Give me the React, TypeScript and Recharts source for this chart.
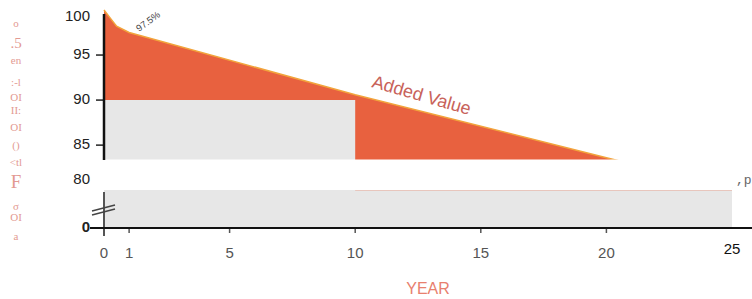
import React from "react";
import { ComposedChart, Area, XAxis, YAxis, ReferenceArea } from "recharts";

// values
const years = [0, 0.25, 0.5, 1, 10, 20, 25];
const guaranteed = [100, 99.1, 98.2, 97.5, 90.6, 83.6, 80.2];
const standard = [90, 90, 90, 90, 80, 80, 80];

const xTicks = [0, 1, 5, 10, 15, 20, 25];
const yTicks = [0, 80, 85, 90, 95, 100];
const sideMarks = ["o", ".5", "en", ":-l", "OI", "II:", "OI", "()", "<tl", "F", "σ", "OI", "a"];

// broken axis: 0..80 squeezed into a thin strip, 80..100 full scale
const LOW = 4.2;
const brk = (v: number) => (v >= 80 ? v - 80 + LOW : (v * LOW) / 80);

const data = years.map((y, i) => ({
  year: y,
  red: brk(guaranteed[i]),
  grey: brk(standard[i]),
}));

const W = 752;
const H = 299;

const YTick = (props: any) => {
  const { x, y, index } = props;
  const v = yTicks[index];
  const dy = v === 100 ? 7 : v === 80 ? -10 : 0;
  const showLine = v === 85 || v === 90 || v === 95;
  return (
    <g>
      {showLine && <line x1={x - 8} x2={x} y1={y} y2={y} stroke="#222" strokeWidth={1.5} />}
      <text
        x={x - 14}
        y={y + dy}
        textAnchor="end"
        dominantBaseline="middle"
        fontSize={15}
        fontWeight={v === 0 ? 700 : 400}
        fill="#222"
        fontFamily="Liberation Sans, Arial, sans-serif"
      >
        {v}
      </text>
    </g>
  );
};

const XTick = (props: any) => {
  const { x, y, payload } = props;
  const last = payload.value === 25;
  return (
    <g>
      {!last && <line x1={x} x2={x} y1={y} y2={y + 5} stroke="#555" strokeWidth={1.5} />}
      <text
        x={x}
        y={y + (last ? 22 : 26)}
        textAnchor="middle"
        dominantBaseline="middle"
        fontSize={15}
        fill={last ? "#111" : "#555"}
        fontFamily="Liberation Sans, Arial, sans-serif"
      >
        {payload.value}
      </text>
    </g>
  );
};

export default function App() {
  return (
    <div style={{ position: "absolute", left: 0, top: 0, width: W, height: H, background: "#fff" }}>
      <ComposedChart width={W} height={H} data={data} margin={{ top: 10, right: 20, bottom: 31, left: 44 }}>
        <XAxis
          dataKey="year"
          type="number"
          domain={[0, 25]}
          ticks={xTicks}
          interval={0}
          axisLine={false}
          tickLine={false}
          tickSize={0}
          tickMargin={0}
          height={40}
          tick={<XTick />}
        />
        <YAxis
          type="number"
          domain={[0, brk(100)]}
          ticks={yTicks.map(brk)}
          interval={0}
          axisLine={false}
          tickLine={false}
          tickSize={0}
          tickMargin={0}
          width={60}
          tick={<YTick />}
        />
        <Area
          dataKey="red"
          type="linear"
          stroke="#f2a43c"
          strokeWidth={1.5}
          fill="#e8613f"
          fillOpacity={1}
          isAnimationActive={false}
        />
        <Area
          dataKey="grey"
          type="stepAfter"
          stroke="none"
          fill="#e7e7e7"
          fillOpacity={1}
          isAnimationActive={false}
        />
        <ReferenceArea y1={LOW + 0.02} y2={brk(83.4)} x1={0} x2={25} fill="#fff" fillOpacity={1} stroke="none" />
      </ComposedChart>
      <svg width={W} height={H} style={{ position: "absolute", left: 0, top: 0, pointerEvents: "none" }}>
        <line x1={104} y1={14} x2={104} y2={160} stroke="#111" strokeWidth={2.5} />
        <line x1={104} y1={192} x2={104} y2={236} stroke="#555" strokeWidth={2} />
        <line x1={92} y1={211} x2={115} y2={205} stroke="#444" strokeWidth={1.5} />
        <line x1={92} y1={215} x2={115} y2={209} stroke="#444" strokeWidth={1.5} />
        <line x1={90} y1={228} x2={752} y2={228} stroke="#111" strokeWidth={2} />
        <text
          x={150}
          y={24}
          fontSize={9.5}
          fill="#444"
          textAnchor="middle"
          transform="rotate(-36 150 24)"
          fontFamily="Liberation Sans, Arial, sans-serif"
        >
          97.5%
        </text>
        <text
          x={420}
          y={101}
          fontSize={18}
          fill="#c8625a"
          textAnchor="middle"
          transform="rotate(16 420 101)"
          fontFamily="Liberation Sans, Arial, sans-serif"
        >
          Added Value
        </text>
        <text
          x={428}
          y={294}
          fontSize={16}
          fill="#e8806e"
          textAnchor="middle"
          fontFamily="Liberation Sans, Arial, sans-serif"
        >
          YEAR
        </text>
        <text x={736} y={184} fontSize={13} fill="#666" fontFamily="Liberation Mono, monospace">
          ,p
        </text>
        {sideMarks.map((m, i) => (
          <text
            key={i}
            x={16}
            y={[27, 48, 64, 86, 101, 114, 131, 149, 166, 188, 210, 221, 240][i]}
            fontSize={m === "F" ? 19 : m === ".5" ? 15 : 11}
            fill="#e39a92"
            textAnchor="middle"
            fontFamily="Liberation Serif, serif"
          >
            {m}
          </text>
        ))}
      </svg>
    </div>
  );
}
